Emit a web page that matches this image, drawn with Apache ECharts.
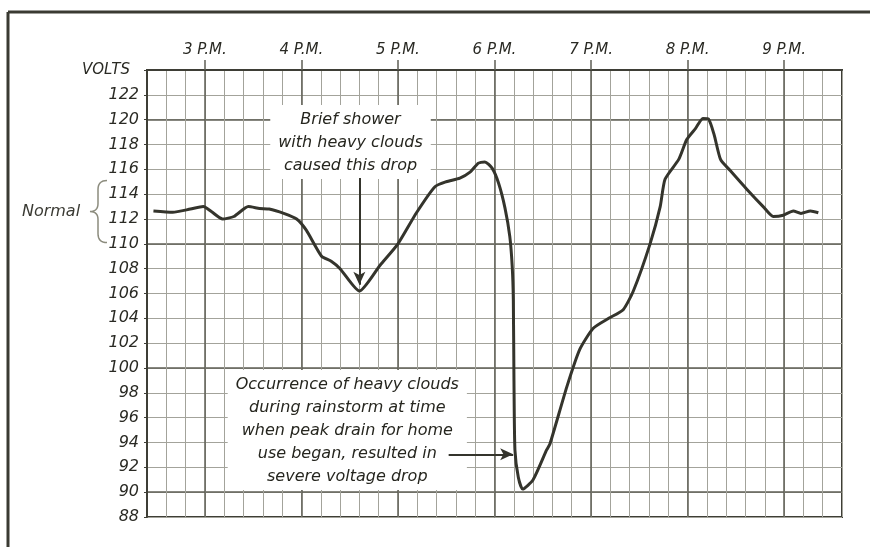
<!DOCTYPE html>
<html>
<head>
<meta charset="utf-8">
<script src="https://cdn.jsdelivr.net/npm/echarts@6/dist/echarts.min.js"></script>
<style>
  html, body { margin: 0; padding: 0; background: #fff; }
  #chart { width: 870px; height: 547px; }
</style>
</head>
<body>
<div id="chart"></div>
<script>
// Time of reading, in minutes after noon
const times = [148, 160, 171, 179, 184, 191, 198, 207, 214, 220, 229, 237, 243, 252.5, 258.5, 264,
  276, 289, 300, 311.5, 323, 330, 338.5, 345, 350, 354, 358.5, 362.5, 366.5, 369.5, 371, 371.7,
  372.1, 372.7, 374.8, 377.5, 384, 392.4, 394.5, 405, 413, 421.4, 431, 440, 446.3, 456.7, 463,
  466, 474.5, 479.5, 485, 489.5, 493, 496.5, 500.5, 506.5, 516.8, 527, 533.3, 539.5, 545.7,
  550.5, 556.4, 561.3];
// Line voltage at each reading
const volts = [112.65, 112.55, 112.8, 113.0, 112.6, 112.0, 112.2, 113.0, 112.85, 112.8, 112.45, 112.0, 111.1, 109.0, 108.6, 108.0,
  106.2, 108.3, 110.0, 112.5, 114.6, 115.0, 115.3, 115.8, 116.5, 116.6, 116.1, 114.9, 112.9, 110.6, 108.2, 105.5,
  99.0, 93.4, 91.2, 90.25, 91.0, 93.4, 93.9, 98.5, 101.5, 103.2, 104.0, 104.7, 106.2, 110.0, 113.0,
  115.2, 116.8, 118.4, 119.3, 120.1, 120.05, 118.8, 116.8, 115.9, 114.4, 113.0, 112.2, 112.3, 112.65,
  112.45, 112.65, 112.5];

// Hour marks along the top
const hourTicks = [180, 240, 300, 360, 420, 480, 540];
const hourLabels = ['3 P.M.', '4 P.M.', '5 P.M.', '6 P.M.', '7 P.M.', '8 P.M.', '9 P.M.'];
// Heavier horizontal rules
const majorVolts = [90, 100, 110, 120];
// Range of the normal voltage band
const normalBand = [110.1, 115.1];

// Notes on the chart
const showerNote = ['Brief shower', 'with heavy clouds', 'caused this drop'];
const stormNote = ['Occurrence of heavy clouds', 'during rainstorm at time', 'when peak drain for home',
  'use began, resulted in', 'severe voltage drop'];

const ink = '#34342c';
const minorGrid = '#a3a39b';
const majorGrid = '#5f5f56';
const font = 'DejaVu Sans';

const chart = echarts.init(document.getElementById('chart'), null, { renderer: 'canvas' });

const noteLabel = (lines) => ({
  show: true,
  position: 'inside',
  backgroundColor: '#fff',
  padding: [3, 8, 2, 8],
  formatter: lines.map(l => '{t|' + l + '}').join('\n'),
  rich: {
    t: {
      fontFamily: font, fontStyle: 'italic', fontSize: 16, color: '#26261f',
      lineHeight: 23, align: 'center'
    }
  }
});

const option = {
  backgroundColor: '#fff',
  animation: false,
  grid: {
    left: 147, top: 70, width: 695, height: 447,
    show: true, borderColor: '#3e3e36', borderWidth: 2, backgroundColor: 'transparent',
    outerBoundsMode: 'none'
  },
  xAxis: [
    {
      type: 'value', position: 'top', min: 144, max: 576, interval: 12,
      axisLine: { show: true, lineStyle: { color: '#3e3e36', width: 2 } },
      axisTick: { show: false },
      axisLabel: { show: false },
      splitLine: { show: true, lineStyle: { color: minorGrid, width: 1 } }
    },
    {
      type: 'value', position: 'top', min: 144, max: 576,
      axisLine: { show: false },
      axisTick: { show: true, customValues: hourTicks, length: 10, inside: false,
        lineStyle: { color: majorGrid, width: 1.5 } },
      axisLabel: {
        show: true, customValues: hourTicks, margin: 12,
        fontFamily: font, fontStyle: 'italic', fontSize: 15, color: '#2a2a24',
        formatter: v => hourLabels[hourTicks.indexOf(v)] || ''
      },
      splitLine: { show: true, lineStyle: { color: majorGrid, width: 1.5 } }
    }
  ],
  yAxis: [
    {
      type: 'value', min: 88, max: 124, interval: 2,
      axisLine: { show: true, lineStyle: { color: '#3e3e36', width: 2 } },
      axisTick: { show: true, length: 3, lineStyle: { color: '#3e3e36' } },
      axisLabel: {
        margin: 8, fontFamily: font, fontStyle: 'italic', fontSize: 16, color: '#2a2a24',
        formatter: v => (v === 124 ? '{v|VOLTS}' : String(v)),
        rich: { v: { fontFamily: font, fontStyle: 'italic', fontSize: 15, color: '#2a2a24', padding: [0, 9, 0, 0] } }
      },
      splitLine: { show: true, lineStyle: { color: minorGrid, width: 1 } }
    },
    {
      type: 'value', position: 'left', min: 88, max: 124,
      axisLine: { show: false },
      axisTick: { show: false, customValues: majorVolts },
      axisLabel: { show: false, customValues: majorVolts },
      splitLine: { show: true, lineStyle: { color: majorGrid, width: 1.5 } }
    }
  ],
  series: [
    {
      type: 'line',
      xAxisIndex: 0, yAxisIndex: 0,
      data: times.map((t, i) => [t, volts[i]]),
      showSymbol: false,
      smooth: 0.2,
      lineStyle: { color: ink, width: 3 },
      z: 5,
      markLine: {
        silent: true,
        z: 10,
        symbol: ['none', 'arrow'],
        symbolSize: [9, 13],
        label: { show: false },
        lineStyle: { color: ink, width: 2, type: 'solid' },
        data: [
          [{ coord: [276, 115.3] }, { coord: [276, 106.7] }],
          [{ coord: [331.5, 93.05] }, { coord: [371.6, 93.05] }]
        ]
      },
      markPoint: {
        silent: true,
        symbol: 'circle',
        symbolSize: 0,
        itemStyle: { color: 'transparent' },
        data: [
          { coord: [270.5, 118.2], label: noteLabel(showerNote) },
          { coord: [268.5, 95.0], label: noteLabel(stormNote) }
        ]
      }
    }
  ]
};

chart.setOption(option);

// Curly brace marking the normal band, built from quadratic segments
const pTop = chart.convertToPixel({ gridIndex: 0 }, [144, normalBand[1]]);
const pBot = chart.convertToPixel({ gridIndex: 0 }, [144, normalBand[0]]);
const yTop = pTop[1], yBot = pBot[1], yMid = (yTop + yBot) / 2;
const xEnd = pTop[0] - 40, xStem = pTop[0] - 49, xTip = pTop[0] - 57;

function quad(p0, c, p1, n) {
  const out = [];
  for (let i = 0; i <= n; i++) {
    const t = i / n, u = 1 - t;
    out.push([u * u * p0[0] + 2 * u * t * c[0] + t * t * p1[0],
              u * u * p0[1] + 2 * u * t * c[1] + t * t * p1[1]]);
  }
  return out;
}
const bracePts = [].concat(
  quad([xEnd, yTop], [xStem, yTop], [xStem, yTop + 9], 8),
  quad([xStem, yMid - 8], [xStem, yMid], [xTip, yMid], 8),
  quad([xTip, yMid], [xStem, yMid], [xStem, yMid + 8], 8),
  quad([xStem, yBot - 9], [xStem, yBot], [xEnd, yBot], 8)
);

chart.setOption({
  graphic: [
    { type: 'line', shape: { x1: 8, y1: 12, x2: 870, y2: 12 }, style: { stroke: '#3a3a32', lineWidth: 3 } },
    { type: 'line', shape: { x1: 8, y1: 12, x2: 8, y2: 547 }, style: { stroke: '#3a3a32', lineWidth: 3 } },
    { type: 'polyline', shape: { points: bracePts }, style: { fill: null, stroke: '#8c8c7e', lineWidth: 1.5 } },
    {
      type: 'text', x: 51, y: yMid, style: {
        text: 'Normal', fontFamily: font, fontStyle: 'italic', fontSize: 16, fill: '#3a3a33',
        align: 'center', verticalAlign: 'middle'
      }
    }
  ]
});
</script>
</body>
</html>
